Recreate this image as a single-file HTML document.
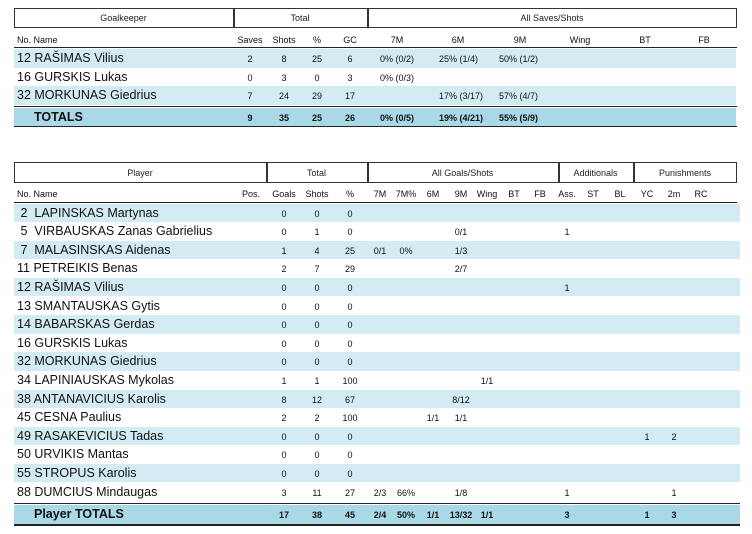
<!DOCTYPE html>
<html><head><meta charset="utf-8"><style>
body{margin:0;width:752px;height:534px;background:#fff;font-family:"Liberation Sans",sans-serif;color:#111;position:relative;overflow:hidden}
.a{position:absolute}
.box{position:absolute;border:1.5px solid #333;box-sizing:border-box}
.vl{position:absolute;width:1.5px;background:#333}
.hd{position:absolute;font-size:9px;text-align:center;color:#222}
.row{position:absolute;left:14px;height:18.6px}
.b{background:#d3ebf3}
.t{background:#a9d9e6}
.n{position:absolute;left:3px;top:2px;font-size:12.5px}
.c{position:absolute;width:50px;margin-left:-25px;text-align:center;font-size:9px;top:5px}
.l{position:absolute;font-size:9px;top:5px}
.bold{font-weight:bold}
.line{position:absolute;left:14px;height:1.5px;background:#222}
</style></head><body>
<!-- Table 1 -->
<div class="box" style="left:14px;top:8px;width:723px;height:20px"></div>
<div class="vl" style="left:233px;top:8px;height:20px"></div>
<div class="vl" style="left:367px;top:8px;height:20px"></div>
<div class="hd" style="left:14px;width:219px;top:13px">Goalkeeper</div>
<div class="hd" style="left:233px;width:134px;top:13px">Total</div>
<div class="hd" style="left:367px;width:370px;top:13px">All Saves/Shots</div>
<div class="a" style="left:17px;top:35px;font-size:9px">No. Name</div>
<div class="a" style="top:30px;left:0;width:752px;height:18px"><span class="c" style="left:250px">Saves</span><span class="c" style="left:284px">Shots</span><span class="c" style="left:317px">%</span><span class="c" style="left:350px">GC</span><span class="c" style="left:397px">7M</span><span class="c" style="left:458px">6M</span><span class="c" style="left:520px">9M</span><span class="c" style="left:580px">Wing</span><span class="c" style="left:645px">BT</span><span class="c" style="left:704px">FB</span></div>
<div class="line" style="top:47px;width:723px;height:1px"></div>
<div class="row b" style="top:49px;width:722px"><span class="n">12 RAŠIMAS Vilius</span><span class="c" style="left:236px">2</span><span class="c" style="left:270px">8</span><span class="c" style="left:303px">25</span><span class="c" style="left:336px">6</span><span class="l" style="left:366px">0% (0/2)</span><span class="l" style="left:425px">25% (1/4)</span><span class="l" style="left:485px">50% (1/2)</span></div>
<div class="row" style="top:67.6px;width:722px"><span class="n">16 GURSKIS Lukas</span><span class="c" style="left:236px">0</span><span class="c" style="left:270px">3</span><span class="c" style="left:303px">0</span><span class="c" style="left:336px">3</span><span class="l" style="left:366px">0% (0/3)</span></div>
<div class="row b" style="top:86.2px;width:722px"><span class="n">32 MORKUNAS Giedrius</span><span class="c" style="left:236px">7</span><span class="c" style="left:270px">24</span><span class="c" style="left:303px">29</span><span class="c" style="left:336px">17</span><span class="l" style="left:425px">17% (3/17)</span><span class="l" style="left:485px">57% (4/7)</span></div>
<div class="line" style="top:105.5px;width:723px"></div>
<div class="row t bold" style="top:107.5px;width:722px;height:18px"><span class="n" style="left:20px">TOTALS</span><span class="c" style="left:236px">9</span><span class="c" style="left:270px">35</span><span class="c" style="left:303px">25</span><span class="c" style="left:336px">26</span><span class="l" style="left:366px">0% (0/5)</span><span class="l" style="left:425px">19% (4/21)</span><span class="l" style="left:485px">55% (5/9)</span></div>
<div class="line" style="top:125.5px;width:723px"></div>

<!-- Table 2 -->
<div class="box" style="left:14px;top:162px;width:723px;height:21px"></div>
<div class="vl" style="left:266px;top:162px;height:21px"></div>
<div class="vl" style="left:367px;top:162px;height:21px"></div>
<div class="vl" style="left:558px;top:162px;height:21px"></div>
<div class="vl" style="left:633px;top:162px;height:21px"></div>
<div class="hd" style="left:14px;width:252px;top:168px">Player</div>
<div class="hd" style="left:266px;width:101px;top:168px">Total</div>
<div class="hd" style="left:367px;width:191px;top:168px">All Goals/Shots</div>
<div class="hd" style="left:558px;width:75px;top:168px">Additionals</div>
<div class="hd" style="left:633px;width:104px;top:168px">Punishments</div>
<div class="a" style="left:17px;top:189px;font-size:9px">No. Name</div>
<div class="a" style="top:184px;left:0;width:752px;height:18px"><span class="c" style="left:251px">Pos.</span><span class="c" style="left:284px">Goals</span><span class="c" style="left:317px">Shots</span><span class="c" style="left:350px">%</span><span class="c" style="left:380px">7M</span><span class="c" style="left:406px">7M%</span><span class="c" style="left:433px">6M</span><span class="c" style="left:461px">9M</span><span class="c" style="left:487px">Wing</span><span class="c" style="left:514px">BT</span><span class="c" style="left:540px">FB</span><span class="c" style="left:567px">Ass.</span><span class="c" style="left:593px">ST</span><span class="c" style="left:620px">BL</span><span class="c" style="left:647px">YC</span><span class="c" style="left:674px">2m</span><span class="c" style="left:701px">RC</span></div>
<div class="line" style="top:202px;width:723px;height:1px"></div>

<div class="row b" style="top:203.5px;width:726px"><span class="n">&nbsp;2&nbsp; LAPINSKAS Martynas</span><span class="c" style="left:270px">0</span><span class="c" style="left:303px">0</span><span class="c" style="left:336px">0</span></div>
<div class="row" style="top:222.1px;width:726px"><span class="n">&nbsp;5&nbsp; VIRBAUSKAS Zanas Gabrielius</span><span class="c" style="left:270px">0</span><span class="c" style="left:303px">1</span><span class="c" style="left:336px">0</span><span class="c" style="left:447px">0/1</span><span class="c" style="left:553px">1</span></div>
<div class="row b" style="top:240.7px;width:726px"><span class="n">&nbsp;7&nbsp; MALASINSKAS Aidenas</span><span class="c" style="left:270px">1</span><span class="c" style="left:303px">4</span><span class="c" style="left:336px">25</span><span class="c" style="left:366px">0/1</span><span class="c" style="left:392px">0%</span><span class="c" style="left:447px">1/3</span></div>
<div class="row" style="top:259.3px;width:726px"><span class="n">11 PETREIKIS Benas</span><span class="c" style="left:270px">2</span><span class="c" style="left:303px">7</span><span class="c" style="left:336px">29</span><span class="c" style="left:447px">2/7</span></div>
<div class="row b" style="top:277.9px;width:726px"><span class="n">12 RAŠIMAS Vilius</span><span class="c" style="left:270px">0</span><span class="c" style="left:303px">0</span><span class="c" style="left:336px">0</span><span class="c" style="left:553px">1</span></div>
<div class="row" style="top:296.5px;width:726px"><span class="n">13 SMANTAUSKAS Gytis</span><span class="c" style="left:270px">0</span><span class="c" style="left:303px">0</span><span class="c" style="left:336px">0</span></div>
<div class="row b" style="top:315.1px;width:726px"><span class="n">14 BABARSKAS Gerdas</span><span class="c" style="left:270px">0</span><span class="c" style="left:303px">0</span><span class="c" style="left:336px">0</span></div>
<div class="row" style="top:333.7px;width:726px"><span class="n">16 GURSKIS Lukas</span><span class="c" style="left:270px">0</span><span class="c" style="left:303px">0</span><span class="c" style="left:336px">0</span></div>
<div class="row b" style="top:352.3px;width:726px"><span class="n">32 MORKUNAS Giedrius</span><span class="c" style="left:270px">0</span><span class="c" style="left:303px">0</span><span class="c" style="left:336px">0</span></div>
<div class="row" style="top:370.9px;width:726px"><span class="n">34 LAPINIAUSKAS Mykolas</span><span class="c" style="left:270px">1</span><span class="c" style="left:303px">1</span><span class="c" style="left:336px">100</span><span class="c" style="left:473px">1/1</span></div>
<div class="row b" style="top:389.5px;width:726px"><span class="n">38 ANTANAVICIUS Karolis</span><span class="c" style="left:270px">8</span><span class="c" style="left:303px">12</span><span class="c" style="left:336px">67</span><span class="c" style="left:447px">8/12</span></div>
<div class="row" style="top:408.1px;width:726px"><span class="n">45 CESNA Paulius</span><span class="c" style="left:270px">2</span><span class="c" style="left:303px">2</span><span class="c" style="left:336px">100</span><span class="c" style="left:419px">1/1</span><span class="c" style="left:447px">1/1</span></div>
<div class="row b" style="top:426.7px;width:726px"><span class="n">49 RASAKEVICIUS Tadas</span><span class="c" style="left:270px">0</span><span class="c" style="left:303px">0</span><span class="c" style="left:336px">0</span><span class="c" style="left:633px">1</span><span class="c" style="left:660px">2</span></div>
<div class="row" style="top:445.3px;width:726px"><span class="n">50 URVIKIS Mantas</span><span class="c" style="left:270px">0</span><span class="c" style="left:303px">0</span><span class="c" style="left:336px">0</span></div>
<div class="row b" style="top:463.9px;width:726px"><span class="n">55 STROPUS Karolis</span><span class="c" style="left:270px">0</span><span class="c" style="left:303px">0</span><span class="c" style="left:336px">0</span></div>
<div class="row" style="top:482.5px;width:726px"><span class="n">88 DUMCIUS Mindaugas</span><span class="c" style="left:270px">3</span><span class="c" style="left:303px">11</span><span class="c" style="left:336px">27</span><span class="c" style="left:366px">2/3</span><span class="c" style="left:392px">66%</span><span class="c" style="left:447px">1/8</span><span class="c" style="left:553px">1</span><span class="c" style="left:660px">1</span></div>
<div class="line" style="top:502.5px;width:726px"></div>
<div class="row t bold" style="top:504.5px;width:726px;height:19.5px"><span class="n" style="left:20px">Player TOTALS</span><span class="c" style="left:270px">17</span><span class="c" style="left:303px">38</span><span class="c" style="left:336px">45</span><span class="c" style="left:366px">2/4</span><span class="c" style="left:392px">50%</span><span class="c" style="left:419px">1/1</span><span class="c" style="left:447px">13/32</span><span class="c" style="left:473px">1/1</span><span class="c" style="left:553px">3</span><span class="c" style="left:633px">1</span><span class="c" style="left:660px">3</span></div>
<div class="line" style="top:524px;width:726px"></div>
</body></html>
